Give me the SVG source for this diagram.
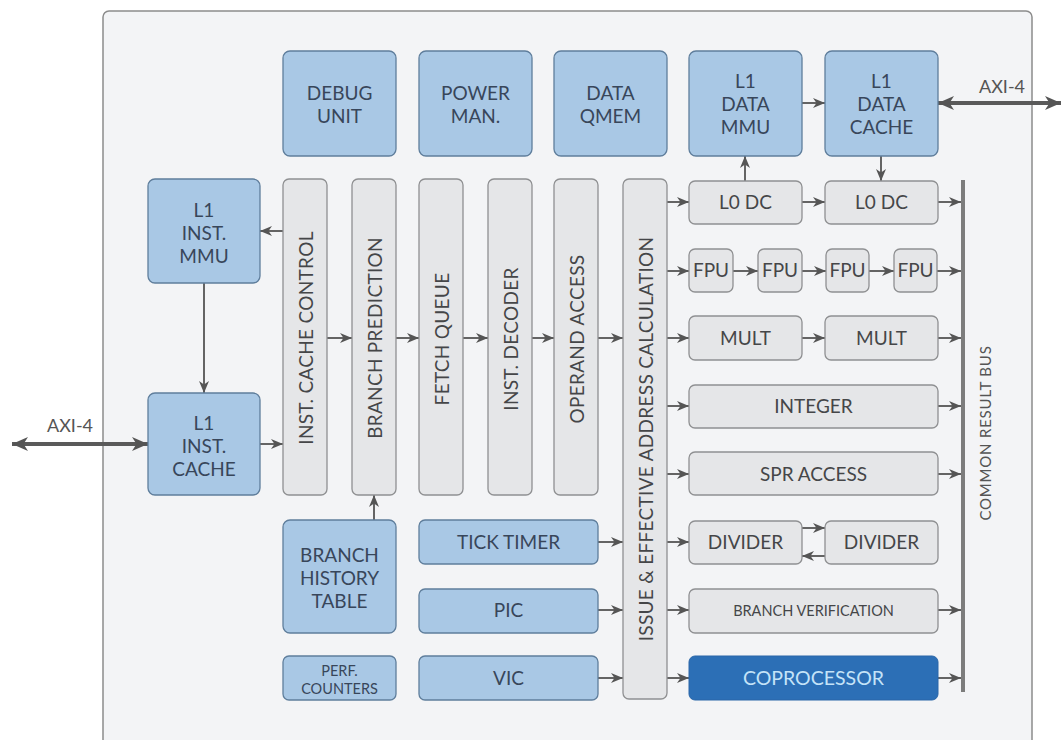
<svg xmlns="http://www.w3.org/2000/svg" width="1063" height="740" viewBox="0 0 1063 740">
<style>
.bg{fill:#f3f4f6;stroke:#8c8c8c;stroke-width:1.5}
.blue{fill:#a9c8e5;stroke:#5f7e9c;stroke-width:1.3}
.gray{fill:#e5e6e8;stroke:#8f9092;stroke-width:1.3}
.cop{fill:#2c6fb6;stroke:#2a66a8;stroke-width:1}
text{font-family:Lato,"Open Sans","DejaVu Sans",sans-serif;text-anchor:middle}
.tb{font-size:19px;fill:#38465a}
.tg{font-size:19px;fill:#454648}
.ts{font-size:14.5px}
.tc{font-size:19.5px;fill:#c4e3f8}
.vt{font-size:19px;fill:#454648;dominant-baseline:central;letter-spacing:0.3px}
.lbl{font-size:18px;fill:#555}
.c{stroke:#646464;stroke-width:2;fill:none;marker-end:url(#ah)}
.axi{stroke:#5a5a5a;stroke-width:4;fill:none;marker-end:url(#ahb);marker-start:url(#ahb)}
</style>
<defs>
<marker id="ah" markerUnits="userSpaceOnUse" viewBox="0 0 12 10" refX="12" refY="5" markerWidth="12" markerHeight="10" orient="auto">
<path d="M0,0 L12,5 L0,10 L3.5,5 Z" fill="#555"/>
</marker>
<marker id="ahb" markerUnits="userSpaceOnUse" viewBox="0 0 16 14" refX="16" refY="7" markerWidth="16" markerHeight="14" orient="auto-start-reverse">
<path d="M0,0 L16,7 L0,14 L4.5,7 Z" fill="#555"/>
</marker>
</defs>
<rect width="1063" height="740" fill="#ffffff"/>
<rect class="bg" x="103" y="11" width="929" height="770" rx="6"/>

<g id="connectors">
<line class="c" x1="283" y1="231" x2="260" y2="231"/>
<line class="c" x1="204" y1="283" x2="204" y2="393"/>
<line class="axi" x1="12" y1="444" x2="148" y2="444"/>
<line class="c" x1="260" y1="444" x2="283" y2="444"/>
<line class="c" x1="327" y1="338" x2="352" y2="338"/>
<line class="c" x1="396" y1="338" x2="419" y2="338"/>
<line class="c" x1="463" y1="338" x2="488" y2="338"/>
<line class="c" x1="532" y1="338" x2="554" y2="338"/>
<line class="c" x1="598" y1="338" x2="623" y2="338"/>
<line class="c" x1="374" y1="520" x2="374" y2="495"/>
<line class="c" x1="667" y1="202" x2="689" y2="202"/>
<line class="c" x1="667" y1="271" x2="689" y2="271"/>
<line class="c" x1="667" y1="338" x2="689" y2="338"/>
<line class="c" x1="667" y1="406" x2="689" y2="406"/>
<line class="c" x1="667" y1="474" x2="689" y2="474"/>
<line class="c" x1="667" y1="542" x2="689" y2="542"/>
<line class="c" x1="667" y1="610" x2="689" y2="610"/>
<line class="c" x1="667" y1="678" x2="689" y2="678"/>
<line class="c" x1="598" y1="542" x2="623" y2="542"/>
<line class="c" x1="598" y1="610" x2="623" y2="610"/>
<line class="c" x1="598" y1="678" x2="623" y2="678"/>
<line class="c" x1="802" y1="202" x2="825" y2="202"/>
<line class="c" x1="745" y1="181" x2="745" y2="156"/>
<line class="c" x1="881" y1="156" x2="881" y2="181"/>
<line class="c" x1="802" y1="103" x2="825" y2="103"/>
<line class="axi" x1="938" y1="103" x2="1061" y2="103"/>
<line class="c" x1="938" y1="202" x2="961" y2="202"/>
<line class="c" x1="733" y1="271" x2="758" y2="271"/>
<line class="c" x1="802" y1="271" x2="826" y2="271"/>
<line class="c" x1="869" y1="271" x2="894" y2="271"/>
<line class="c" x1="937" y1="271" x2="961" y2="271"/>
<line class="c" x1="802" y1="338" x2="825" y2="338"/>
<line class="c" x1="938" y1="338" x2="961" y2="338"/>
<line class="c" x1="938" y1="406" x2="961" y2="406"/>
<line class="c" x1="938" y1="474" x2="961" y2="474"/>
<line class="c" x1="802" y1="528" x2="825" y2="528"/>
<line class="c" x1="825" y1="556" x2="802" y2="556"/>
<line class="c" x1="938" y1="610" x2="961" y2="610"/>
<line class="c" x1="938" y1="678" x2="961" y2="678"/>
<text class="lbl" x="70" y="432">AXI-4</text>
<text class="lbl" x="1002" y="93">AXI-4</text>
</g>

<g id="common-result-bus">
<line x1="963" y1="180" x2="963" y2="692" stroke="#7c7c7c" stroke-width="4"/>
<text transform="translate(985,433) rotate(-90)" font-size="15" letter-spacing="0.8" fill="#555" dominant-baseline="central">COMMON RESULT BUS</text>
</g>

<g id="debug-unit"><rect class="blue" x="283" y="51" width="113" height="105" rx="7"/><text class="tb" x="339.5" y="100">DEBUG</text><text class="tb" x="339.5" y="123">UNIT</text></g>
<g id="power-man"><rect class="blue" x="419" y="51" width="113" height="105" rx="7"/><text class="tb" x="475.5" y="100">POWER</text><text class="tb" x="475.5" y="123">MAN.</text></g>
<g id="data-qmem"><rect class="blue" x="554" y="51" width="113" height="105" rx="7"/><text class="tb" x="610.5" y="100">DATA</text><text class="tb" x="610.5" y="123">QMEM</text></g>
<g id="l1-data-mmu"><rect class="blue" x="689" y="51" width="113" height="105" rx="7"/><text class="tb" x="745.5" y="88">L1</text><text class="tb" x="745.5" y="111">DATA</text><text class="tb" x="745.5" y="134">MMU</text></g>
<g id="l1-data-cache"><rect class="blue" x="825" y="51" width="113" height="105" rx="7"/><text class="tb" x="881.5" y="88">L1</text><text class="tb" x="881.5" y="111">DATA</text><text class="tb" x="881.5" y="134">CACHE</text></g>

<g id="l1-inst-mmu"><rect class="blue" x="148" y="179" width="112" height="104" rx="7"/><text class="tb" x="204" y="217">L1</text><text class="tb" x="204" y="240">INST.</text><text class="tb" x="204" y="263">MMU</text></g>
<g id="l1-inst-cache"><rect class="blue" x="148" y="393" width="112" height="102" rx="7"/><text class="tb" x="204" y="430">L1</text><text class="tb" x="204" y="453">INST.</text><text class="tb" x="204" y="476">CACHE</text></g>

<g id="inst-cache-control"><rect class="gray" x="283" y="179" width="44" height="316" rx="6"/><text class="vt" transform="translate(305,338) rotate(-90)">INST. CACHE CONTROL</text></g>
<g id="branch-prediction"><rect class="gray" x="352" y="179" width="44" height="316" rx="6"/><text class="vt" transform="translate(374,338) rotate(-90)">BRANCH PREDICTION</text></g>
<g id="fetch-queue"><rect class="gray" x="419" y="179" width="44" height="316" rx="6"/><text class="vt" transform="translate(441,339) rotate(-90)">FETCH QUEUE</text></g>
<g id="inst-decoder"><rect class="gray" x="488" y="179" width="44" height="316" rx="6"/><text class="vt" transform="translate(510,339) rotate(-90)">INST. DECODER</text></g>
<g id="operand-access"><rect class="gray" x="554" y="179" width="44" height="316" rx="6"/><text class="vt" transform="translate(576,339) rotate(-90)">OPERAND ACCESS</text></g>
<g id="issue-eac"><rect class="gray" x="623" y="179" width="44" height="520" rx="6"/><text class="vt" transform="translate(645,439) rotate(-90)">ISSUE &amp; EFFECTIVE ADDRESS CALCULATION</text></g>

<g id="branch-history-table"><rect class="blue" x="283" y="520" width="113" height="113" rx="7"/><text class="tb" x="339.5" y="562">BRANCH</text><text class="tb" x="339.5" y="585">HISTORY</text><text class="tb" x="339.5" y="608">TABLE</text></g>
<g id="perf-counters"><rect class="blue" x="283" y="656" width="113" height="44" rx="6"/><text class="tb ts" x="339.5" y="676">PERF.</text><text class="tb ts" x="339.5" y="694">COUNTERS</text></g>
<g id="tick-timer"><rect class="blue" x="419" y="520" width="179" height="44" rx="6"/><text class="tb" x="508.5" y="549">TICK TIMER</text></g>
<g id="pic"><rect class="blue" x="419" y="589" width="179" height="44" rx="6"/><text class="tb" x="508.5" y="617">PIC</text></g>
<g id="vic"><rect class="blue" x="419" y="656" width="179" height="44" rx="6"/><text class="tb" x="508.5" y="685">VIC</text></g>

<g id="l0dc-1"><rect class="gray" x="689" y="181" width="113" height="43" rx="6"/><text class="tg" x="745.5" y="209">L0 DC</text></g>
<g id="l0dc-2"><rect class="gray" x="825" y="181" width="113" height="43" rx="6"/><text class="tg" x="881.5" y="209">L0 DC</text></g>
<g id="fpu-1"><rect class="gray" x="689" y="249" width="44" height="43" rx="6"/><text class="tg" x="711" y="277">FPU</text></g>
<g id="fpu-2"><rect class="gray" x="758" y="249" width="44" height="43" rx="6"/><text class="tg" x="780" y="277">FPU</text></g>
<g id="fpu-3"><rect class="gray" x="826" y="249" width="43" height="43" rx="6"/><text class="tg" x="847.5" y="277">FPU</text></g>
<g id="fpu-4"><rect class="gray" x="894" y="249" width="43" height="43" rx="6"/><text class="tg" x="915.5" y="277">FPU</text></g>
<g id="mult-1"><rect class="gray" x="689" y="316" width="113" height="44" rx="6"/><text class="tg" x="745.5" y="345">MULT</text></g>
<g id="mult-2"><rect class="gray" x="825" y="316" width="113" height="44" rx="6"/><text class="tg" x="881.5" y="345">MULT</text></g>
<g id="integer"><rect class="gray" x="689" y="385" width="249" height="43" rx="6"/><text class="tg" x="813.5" y="413">INTEGER</text></g>
<g id="spr-access"><rect class="gray" x="689" y="452" width="249" height="43" rx="6"/><text class="tg" x="813.5" y="481">SPR ACCESS</text></g>
<g id="divider-1"><rect class="gray" x="689" y="521" width="113" height="43" rx="6"/><text class="tg" x="745.5" y="549">DIVIDER</text></g>
<g id="divider-2"><rect class="gray" x="825" y="521" width="113" height="43" rx="6"/><text class="tg" x="881.5" y="549">DIVIDER</text></g>
<g id="branch-verification"><rect class="gray" x="689" y="589" width="249" height="44" rx="6"/><text class="tg ts" x="813.5" y="616">BRANCH VERIFICATION</text></g>
<g id="coprocessor"><rect class="cop" x="689" y="656" width="249" height="44" rx="6"/><text class="tc" x="813.5" y="685">COPROCESSOR</text></g>
</svg>
